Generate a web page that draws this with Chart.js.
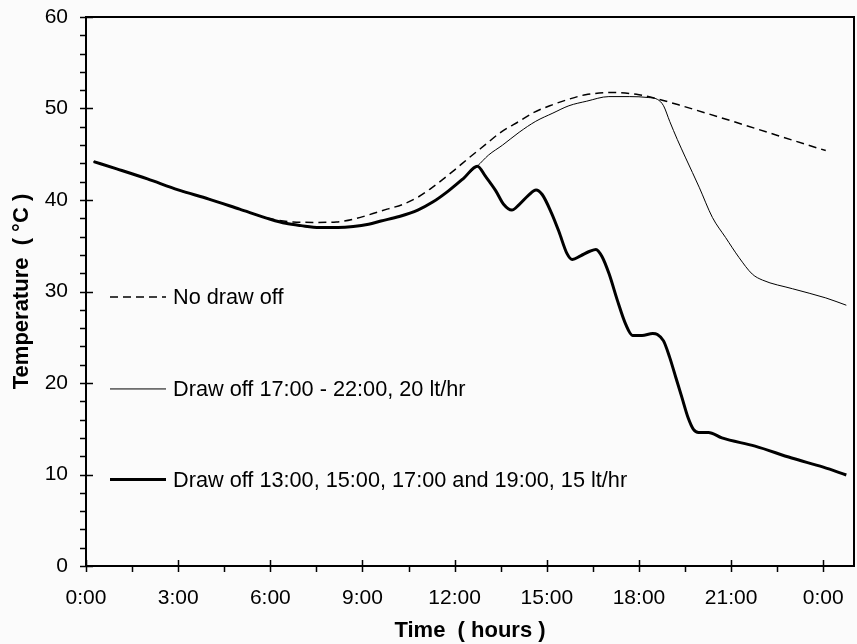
<!DOCTYPE html>
<html>
<head>
<meta charset="utf-8">
<script src="https://cdn.jsdelivr.net/npm/chart.js@4.4.0/dist/chart.umd.min.js"></script>
<style>
  html, body { margin: 0; padding: 0; background: #fbfbfb; }
  #wrap { width: 857px; height: 644px; }
</style>
</head>
<body>
<div id="wrap"><canvas id="tempChart"></canvas></div>
<script>
// Values: time in hours, temperature in °C

// No draw off (dashed)
const noDrawTime = [0.25, 1, 2, 3, 4, 5, 6, 6.74, 7.5, 8.15, 8.7, 9.23, 9.8, 10.3, 10.8, 11.2, 11.93, 12.5, 13.02, 13.5, 14.1, 14.6, 15.18, 15.7, 16.26, 17.13, 18.0, 18.6, 19.29, 24.08];
const noDrawTemp = [44.2, 43.4, 42.3, 41.1, 40.1, 39.0, 37.95, 37.6, 37.55, 37.6, 37.9, 38.4, 39.0, 39.5, 40.3, 41.2, 43.1, 44.7, 46.1, 47.4, 48.6, 49.6, 50.4, 51.0, 51.5, 51.75, 51.5, 51.05, 50.4, 45.4];

// Draw off 17:00 - 22:00 (thin)
const drawOff1Time = [0.25, 1, 2, 3, 4, 5, 6, 6.5, 7, 7.6, 8.2, 8.7, 9.2, 9.6, 10.2, 10.8, 11.3, 11.8, 12.3, 12.74, 13.1, 13.56, 14.1, 14.64, 15.2, 15.72, 16.3, 17.02, 17.7, 18.3, 18.6, 18.8, 19.0, 19.25, 19.52, 19.96, 20.39, 20.82, 21.26, 21.69, 22.02, 23.0, 24.08, 24.75];
const drawOff1Temp = [44.2, 43.4, 42.3, 41.1, 40.1, 39.0, 37.9, 37.45, 37.2, 37.0, 37.0, 37.1, 37.35, 37.7, 38.2, 38.9, 39.8, 41.0, 42.4, 43.7, 44.9, 46.0, 47.4, 48.6, 49.5, 50.3, 50.8, 51.3, 51.3, 51.2, 51.0, 50.3, 48.6, 46.6, 44.6, 41.4, 38.1, 35.9, 33.7, 31.9, 31.25, 30.3, 29.3, 28.5];

// Draw off 13:00, 15:00, 17:00 and 19:00 (thick)
const drawOff2Time = [0.25, 1, 2, 3, 4, 5, 6, 6.5, 7, 7.6, 8.2, 8.7, 9.2, 9.6, 10.2, 10.8, 11.3, 11.8, 12.3, 12.74, 13.0, 13.34, 13.6, 13.86, 14.1, 14.4, 14.65, 14.85, 15.15, 15.4, 15.65, 15.83, 16.1, 16.4, 16.6, 16.8, 17.03, 17.3, 17.57, 17.79, 18.1, 18.45, 18.6, 18.8, 19.0, 19.2, 19.4, 19.6, 19.78, 19.94, 20.26, 20.7, 21.78, 22.97, 24.0, 24.75];
const drawOff2Temp = [44.2, 43.4, 42.3, 41.1, 40.1, 39.0, 37.9, 37.45, 37.2, 37.0, 37.0, 37.1, 37.35, 37.7, 38.2, 38.9, 39.8, 41.0, 42.4, 43.7, 42.6, 41.0, 39.5, 38.9, 39.5, 40.5, 41.1, 40.6, 38.6, 36.5, 34.2, 33.5, 33.9, 34.4, 34.6, 33.8, 31.9, 29.0, 26.4, 25.2, 25.2, 25.4, 25.3, 24.6, 22.8, 20.6, 18.4, 16.2, 14.9, 14.6, 14.6, 14.0, 13.1, 11.8, 10.8, 9.95];

const seriesLabels = [
    'No draw off',
    'Draw off 17:00 - 22:00, 20 lt/hr',
    'Draw off 13:00, 15:00, 17:00 and 19:00, 15 lt/hr'
];

// Tick positions (every other one is labelled)
const xTicks = [0, 1.5, 3, 4.5, 6, 7.5, 9, 10.5, 12, 13.5, 15, 16.5, 18, 19.5, 21, 22.5, 24];
const yTicks = [0, 2, 4, 6, 8, 10, 12, 14, 16, 18, 20, 22, 24, 26, 28, 30, 32, 34, 36, 38, 40, 42, 44, 46, 48, 50, 52, 54, 56, 58, 60];

// where the legend rows sit (in temperature units on the y scale)
const legendRowY = [29.4, 19.35, 9.45];

const toPoints = (xs, ys) => xs.map((t, i) => ({ x: t, y: ys[i] }));

Chart.defaults.font.family = "'Liberation Sans', Arial, sans-serif";
Chart.defaults.font.size = 21;
Chart.defaults.color = '#000';

// Draws the plot frame, tick marks and the in-plot legend
const framePlugin = {
    id: 'frame',
    afterDraw(chart) {
        const { ctx, chartArea: a, scales: { x, y } } = chart;
        ctx.save();
        ctx.strokeStyle = '#000';
        ctx.lineWidth = 2;
        ctx.strokeRect(a.left, a.top, a.right - a.left, a.bottom - a.top);

        ctx.lineWidth = 1.5;
        ctx.beginPath();
        xTicks.forEach(v => {
            const px = Math.round(x.getPixelForValue(v)) + 0.5;
            ctx.moveTo(px, a.bottom + 6);
            ctx.lineTo(px, v % 3 === 0 ? a.bottom - 6 : a.bottom);
        });
        yTicks.forEach(v => {
            const py = Math.round(y.getPixelForValue(v)) + 0.5;
            ctx.moveTo(a.left - 6, py);
            ctx.lineTo(v % 10 === 0 ? a.left + 7 : a.left, py);
        });
        ctx.stroke();

        // legend rows
        ctx.font = "21.7px 'Liberation Sans', Arial, sans-serif";
        ctx.textBaseline = 'middle';
        ctx.fillStyle = '#000';
        chart.data.datasets.forEach((ds, i) => {
            const py = y.getPixelForValue(legendRowY[i]);
            ctx.beginPath();
            ctx.lineWidth = ds.borderWidth;
            ctx.setLineDash(ds.borderDash || []);
            ctx.moveTo(a.left + 24, py);
            ctx.lineTo(a.left + 80, py);
            ctx.stroke();
            ctx.setLineDash([]);
            ctx.fillText(ds.label, a.left + 87, py + 1);
        });
        ctx.restore();
    }
};

const ctx = document.getElementById('tempChart').getContext('2d');
const tempChart = new Chart(ctx, {
    type: 'line',
    data: {
        datasets: [{
            label: seriesLabels[0],
            data: toPoints(noDrawTime, noDrawTemp),
            borderColor: '#000',
            borderWidth: 1.5,
            borderDash: [8, 5]
        }, {
            label: seriesLabels[1],
            data: toPoints(drawOff1Time, drawOff1Temp),
            borderColor: '#000',
            borderWidth: 1
        }, {
            label: seriesLabels[2],
            data: toPoints(drawOff2Time, drawOff2Temp),
            borderColor: '#000',
            borderWidth: 3
        }]
    },
    options: {
        responsive: true,
        maintainAspectRatio: false,
        animation: false,
        layout: { padding: { top: 17, right: 3, left: 0, bottom: 0 } },
        elements: {
            point: { radius: 0 },
            line: { cubicInterpolationMode: 'monotone' }
        },
        plugins: {
            legend: { display: false },
            tooltip: { enabled: false }
        },
        scales: {
            x: {
                type: 'linear',
                min: 0,
                max: 25,
                afterBuildTicks: scale => { scale.ticks = xTicks.map(v => ({ value: v })); },
                afterFit: scale => {
                    scale.height = 78;
                    scale.paddingLeft = 0;
                    scale.paddingRight = 0;
                },
                grid: { display: false, drawTicks: false },
                border: { display: false },
                ticks: {
                    padding: 20,
                    maxRotation: 0,
                    autoSkip: false,
                    callback: v => (v % 3 === 0 ? (v % 24) + ':00' : '')
                },
                title: {
                    display: true,
                    text: 'Time  ( hours )',
                    font: { size: 22, weight: 'bold' },
                    padding: { top: 0, bottom: 0 }
                }
            },
            y: {
                min: 0,
                max: 60,
                afterBuildTicks: scale => { scale.ticks = yTicks.map(v => ({ value: v })); },
                afterFit: scale => {
                    scale.width = 86;
                    scale.paddingTop = 0;
                    scale.paddingBottom = 0;
                },
                grid: { display: false, drawTicks: false },
                border: { display: false },
                ticks: {
                    padding: 18,
                    autoSkip: false,
                    callback: v => (v % 10 === 0 ? v : '')
                },
                title: {
                    display: true,
                    text: 'Temperature  ( °C )',
                    font: { size: 22, weight: 'bold' },
                    padding: { top: 9, bottom: 0 }
                }
            }
        }
    },
    plugins: [framePlugin]
});
</script>
</body>
</html>
